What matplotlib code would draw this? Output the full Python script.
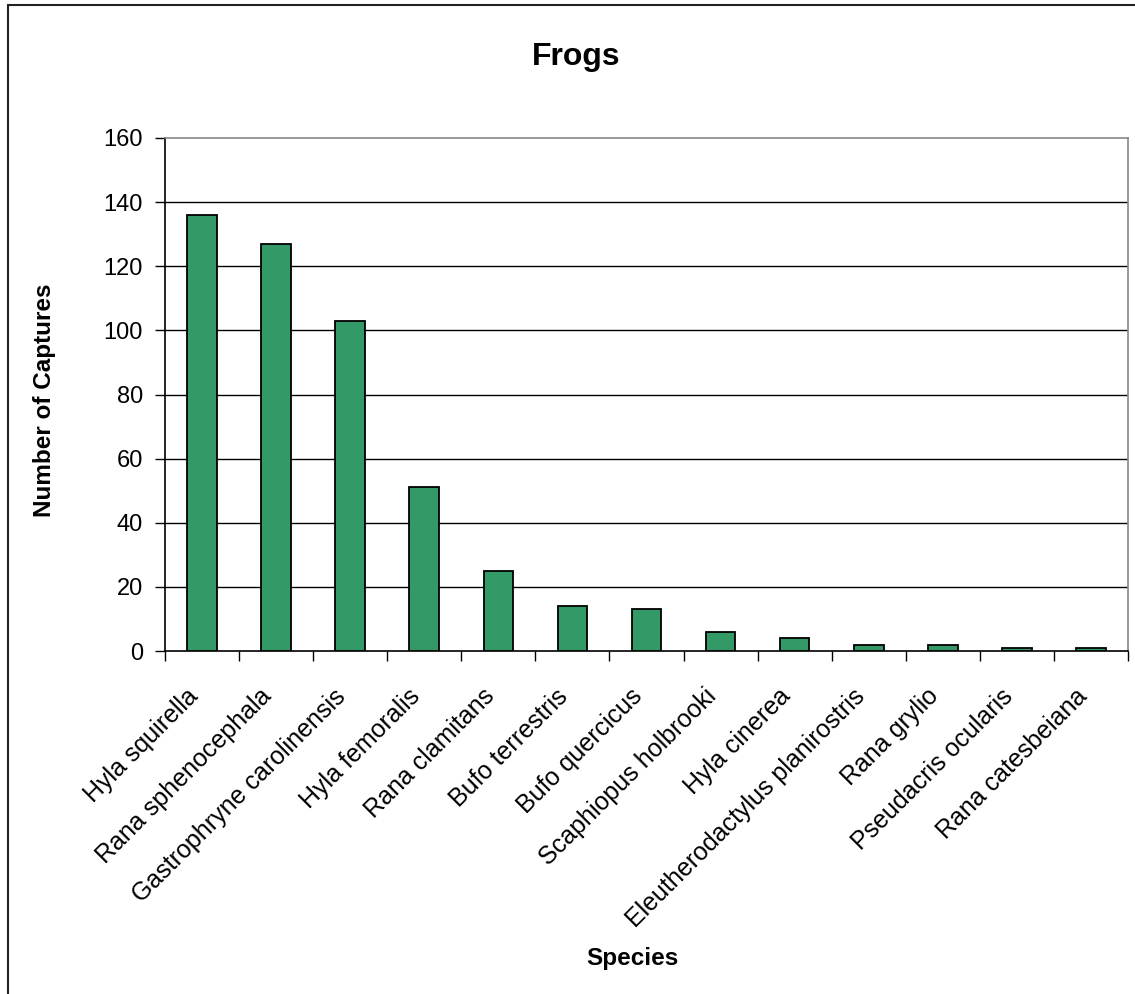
import numpy as np
import matplotlib
matplotlib.use("Agg")
import matplotlib.pyplot as plt
import matplotlib.transforms as mtransforms
from matplotlib.patches import Rectangle

plt.rcParams['font.family'] = ['Liberation Sans', 'DejaVu Sans']

# data
species = ["Hyla squirella", "Rana sphenocephala", "Gastrophryne carolinensis",
           "Hyla femoralis", "Rana clamitans", "Bufo terrestris", "Bufo quercicus",
           "Scaphiopus holbrooki", "Hyla cinerea", "Eleutherodactylus planirostris",
           "Rana grylio", "Pseudacris ocularis", "Rana catesbeiana"]
captures = [136, 127, 103, 51, 25, 14, 13, 6, 4, 2, 2, 1, 1]
yticks = [0, 20, 40, 60, 80, 100, 120, 140, 160]

W, H = 1135, 994
fig = plt.figure(figsize=(W / 100, H / 100), dpi=100)
ax = fig.add_axes([165 / W, 1 - 651 / H, 963 / W, 513 / H])

x = np.arange(len(species))
ax.bar(x, captures, width=0.4, color="#339966", edgecolor="black", linewidth=1.3, zorder=3)

ax.set_xlim(-0.5, len(species) - 0.5)
ax.set_ylim(0, 160)
ax.set_yticks(yticks)
ax.set_yticklabels([str(v) for v in yticks], fontsize=17)
for v in yticks[1:-1]:
    ax.axhline(v, color="black", linewidth=1, zorder=1)

# tick marks at category boundaries, labels at centres
ax.set_xticks(np.arange(len(species) + 1) - 0.5, minor=True)
ax.tick_params(axis="x", which="minor", length=7, width=1, direction="out")
ax.tick_params(axis="y", length=7, width=1, direction="out", pad=9)
ax.tick_params(axis="x", which="major", length=0, pad=30)
ax.set_xticks(x)
ax.set_xticklabels(species, rotation=45, ha="right", va="center",
                   rotation_mode="anchor", fontsize=18)
shift = mtransforms.ScaledTranslation(-8 / 100, 0, fig.dpi_scale_trans)
for lbl in ax.get_xticklabels():
    lbl.set_transform(lbl.get_transform() + shift)

for s in ["left", "bottom"]:
    ax.spines[s].set_color("black")
    ax.spines[s].set_linewidth(1.2)
for s in ["top", "right"]:
    ax.spines[s].set_color("#888888")
    ax.spines[s].set_linewidth(1.2)

fig.text(576 / W, 1 - 57 / H, "Frogs", ha="center", va="center",
         fontsize=23, fontweight="bold")
fig.text(632 / W, 1 - 959 / H, "Species", ha="center", va="center",
         fontsize=17.5, fontweight="bold")
fig.text(45 / W, 1 - 400 / H, "Number of Captures", ha="center", va="center",
         rotation=90, fontsize=17.5, fontweight="bold")

# outer chart border (cut off at right and bottom)
fig.patches.append(Rectangle((8 / W, -0.1), 1.2, 1 - 5 / H + 0.1,
                             transform=fig.transFigure, fill=False,
                             edgecolor="#222222", linewidth=1.5))

fig.savefig("out.png", dpi=100)
